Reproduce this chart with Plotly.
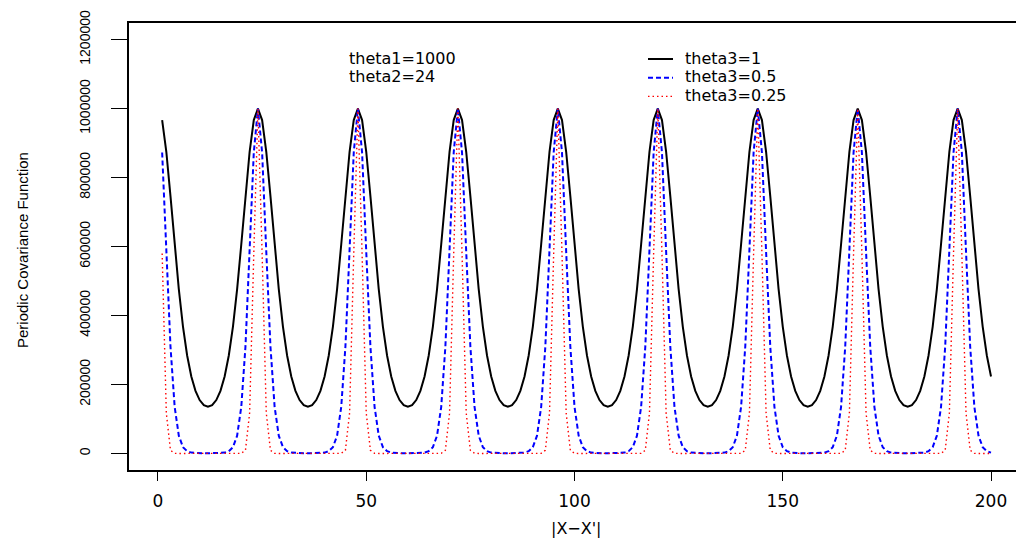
import plotly.graph_objects as go

# Lag values |X - X'|
lag = list(range(1, 201))

# Periodic covariance, theta1 = 1000, theta2 = 24, for three values of theta3
cov_theta3_1 = [
    966500, 874612, 746102, 606531, 476551, 367879, 283990, 223130, 181390, 154737, 140026, 135335,
    140026, 154737, 181390, 223130, 283990, 367879, 476551, 606531, 746102, 874612, 966500,
    1000000, 966500, 874612, 746102, 606531, 476551, 367879, 283990, 223130, 181390, 154737, 140026,
    135335, 140026, 154737, 181390, 223130, 283990, 367879, 476551, 606531, 746102, 874612, 966500,
    1000000, 966500, 874612, 746102, 606531, 476551, 367879, 283990, 223130, 181390, 154737, 140026,
    135335, 140026, 154737, 181390, 223130, 283990, 367879, 476551, 606531, 746102, 874612, 966500,
    1000000, 966500, 874612, 746102, 606531, 476551, 367879, 283990, 223130, 181390, 154737, 140026,
    135335, 140026, 154737, 181390, 223130, 283990, 367879, 476551, 606531, 746102, 874612, 966500,
    1000000, 966500, 874612, 746102, 606531, 476551, 367879, 283990, 223130, 181390, 154737, 140026,
    135335, 140026, 154737, 181390, 223130, 283990, 367879, 476551, 606531, 746102, 874612, 966500,
    1000000, 966500, 874612, 746102, 606531, 476551, 367879, 283990, 223130, 181390, 154737, 140026,
    135335, 140026, 154737, 181390, 223130, 283990, 367879, 476551, 606531, 746102, 874612, 966500,
    1000000, 966500, 874612, 746102, 606531, 476551, 367879, 283990, 223130, 181390, 154737, 140026,
    135335, 140026, 154737, 181390, 223130, 283990, 367879, 476551, 606531, 746102, 874612, 966500,
    1000000, 966500, 874612, 746102, 606531, 476551, 367879, 283990, 223130, 181390, 154737, 140026,
    135335, 140026, 154737, 181390, 223130, 283990, 367879, 476551, 606531, 746102, 874612, 966500,
    1000000, 966500, 874612, 746102, 606531, 476551, 367879, 283990, 223130,
]

cov_theta3_05 = [
    872585, 585144, 309879, 135335, 51575, 18316, 6504, 2479, 1083, 573, 384, 335,
    384, 573, 1083, 2479, 6504, 18316, 51575, 135335, 309879, 585144, 872585,
    1000000, 872585, 585144, 309879, 135335, 51575, 18316, 6504, 2479, 1083, 573, 384,
    335, 384, 573, 1083, 2479, 6504, 18316, 51575, 135335, 309879, 585144, 872585,
    1000000, 872585, 585144, 309879, 135335, 51575, 18316, 6504, 2479, 1083, 573, 384,
    335, 384, 573, 1083, 2479, 6504, 18316, 51575, 135335, 309879, 585144, 872585,
    1000000, 872585, 585144, 309879, 135335, 51575, 18316, 6504, 2479, 1083, 573, 384,
    335, 384, 573, 1083, 2479, 6504, 18316, 51575, 135335, 309879, 585144, 872585,
    1000000, 872585, 585144, 309879, 135335, 51575, 18316, 6504, 2479, 1083, 573, 384,
    335, 384, 573, 1083, 2479, 6504, 18316, 51575, 135335, 309879, 585144, 872585,
    1000000, 872585, 585144, 309879, 135335, 51575, 18316, 6504, 2479, 1083, 573, 384,
    335, 384, 573, 1083, 2479, 6504, 18316, 51575, 135335, 309879, 585144, 872585,
    1000000, 872585, 585144, 309879, 135335, 51575, 18316, 6504, 2479, 1083, 573, 384,
    335, 384, 573, 1083, 2479, 6504, 18316, 51575, 135335, 309879, 585144, 872585,
    1000000, 872585, 585144, 309879, 135335, 51575, 18316, 6504, 2479, 1083, 573, 384,
    335, 384, 573, 1083, 2479, 6504, 18316, 51575, 135335, 309879, 585144, 872585,
    1000000, 872585, 585144, 309879, 135335, 51575, 18316, 6504, 2479,
]

cov_theta3_025 = [
    579734, 117233, 9221, 335, 7, 0, 0, 0, 0, 0, 0, 0,
    0, 0, 0, 0, 0, 0, 7, 335, 9221, 117233, 579734,
    1000000, 579734, 117233, 9221, 335, 7, 0, 0, 0, 0, 0, 0,
    0, 0, 0, 0, 0, 0, 0, 7, 335, 9221, 117233, 579734,
    1000000, 579734, 117233, 9221, 335, 7, 0, 0, 0, 0, 0, 0,
    0, 0, 0, 0, 0, 0, 0, 7, 335, 9221, 117233, 579734,
    1000000, 579734, 117233, 9221, 335, 7, 0, 0, 0, 0, 0, 0,
    0, 0, 0, 0, 0, 0, 0, 7, 335, 9221, 117233, 579734,
    1000000, 579734, 117233, 9221, 335, 7, 0, 0, 0, 0, 0, 0,
    0, 0, 0, 0, 0, 0, 0, 7, 335, 9221, 117233, 579734,
    1000000, 579734, 117233, 9221, 335, 7, 0, 0, 0, 0, 0, 0,
    0, 0, 0, 0, 0, 0, 0, 7, 335, 9221, 117233, 579734,
    1000000, 579734, 117233, 9221, 335, 7, 0, 0, 0, 0, 0, 0,
    0, 0, 0, 0, 0, 0, 0, 7, 335, 9221, 117233, 579734,
    1000000, 579734, 117233, 9221, 335, 7, 0, 0, 0, 0, 0, 0,
    0, 0, 0, 0, 0, 0, 0, 7, 335, 9221, 117233, 579734,
    1000000, 579734, 117233, 9221, 335, 7, 0, 0, 0,
]

series_names = ["theta3=1", "theta3=0.5", "theta3=0.25"]
param_labels = ["theta1=1000", "theta2=24"]

x_ticks = [0, 50, 100, 150, 200]
y_ticks = [0, 200000, 400000, 600000, 800000, 1000000, 1200000]
y_ticktext = ["0", "200000", "400000", "600000", "800000", "1000000", "1200000"]

W, H = 1016, 539
L, T, R, B = 129, 23, 1016, 470  # plot area in page pixels


def px(xp):
    return (xp - L) / (R - L)


def py(yp):
    return (B - yp) / (B - T)


styles = [
    dict(color="black", width=2, dash="solid"),
    dict(color="blue", width=2, dash="5px,3px"),
    dict(color="red", width=1.4, dash="1.5px,3px"),
]
series = [cov_theta3_1, cov_theta3_05, cov_theta3_025]

fig = go.Figure()
for name, ys, st in zip(series_names, series, styles):
    fig.add_trace(go.Scatter(x=lag, y=ys, mode="lines", name=name,
                             line=st, showlegend=False))

# Hand-placed legend keys and labels
label_font = dict(family="DejaVu Sans", size=16, color="black")
legend_rows_y = [58.2, 76.9, 95.6]
shapes = []
annotations = []
for name, st, yy in zip(series_names, styles, legend_rows_y):
    shapes.append(dict(type="line", xref="paper", yref="paper",
                       x0=px(648), x1=px(673), y0=py(yy + 0.8), y1=py(yy + 0.8),
                       line=st))
    annotations.append(dict(text=name, xref="paper", yref="paper",
                            x=px(684), y=py(yy), xanchor="left", yanchor="middle",
                            showarrow=False, borderpad=0, font=label_font))

for lbl, yy in zip(param_labels, legend_rows_y[:2]):
    annotations.append(dict(text=lbl, xref="paper", yref="paper",
                            x=px(348), y=py(yy), xanchor="left", yanchor="middle",
                            showarrow=False, borderpad=0, font=label_font))

# Axis titles
annotations.append(dict(text="|X\u2212X'|", xref="paper", yref="paper",
                        x=px(576), y=py(528.5), xanchor="center", yanchor="middle",
                        showarrow=False, borderpad=0,
                        font=dict(family="DejaVu Sans", size=16, color="black")))
annotations.append(dict(text="Periodic Covariance Function", xref="paper", yref="paper",
                        x=px(22), y=py(250), xanchor="center", yanchor="middle",
                        textangle=-90, showarrow=False,
                        font=dict(family="Liberation Sans", size=15, color="black")))

fig.update_layout(
    width=W, height=H,
    margin=dict(l=L, r=W - R, t=T, b=H - B, pad=0),
    paper_bgcolor="white", plot_bgcolor="white",
    shapes=shapes, annotations=annotations,
    xaxis=dict(range=[-6.96, 206.0], tickvals=x_ticks, ticks="outside",
               ticklen=9, tickwidth=1, tickcolor="black", ticklabelstandoff=6,
               showline=True, linecolor="black", linewidth=1.5, mirror=True,
               showgrid=False, zeroline=False,
               tickfont=dict(family="DejaVu Sans", size=17, color="black")),
    yaxis=dict(range=[-48000, 1248000], tickvals=y_ticks, ticktext=y_ticktext,
               tickangle=-90, ticks="outside", ticklen=16, tickwidth=1,
               tickcolor="black", ticklabelstandoff=16,
               showline=True, linecolor="black", linewidth=1.5,
               mirror=False, showgrid=False, zeroline=False,
               tickfont=dict(family="Liberation Sans", size=14, color="black")),
)

fig.write_html("out.html")
